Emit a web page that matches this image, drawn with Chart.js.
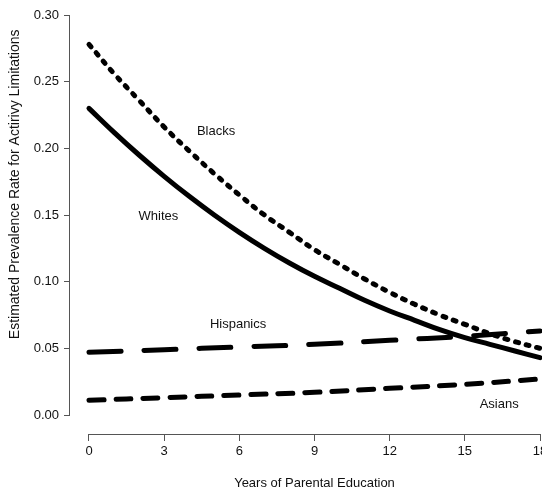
<!DOCTYPE html>
<html>
<head>
<meta charset="utf-8">
<script src="https://cdn.jsdelivr.net/npm/chart.js@4.4.0/dist/chart.umd.min.js"></script>
<style>
  html, body { margin: 0; padding: 0; background: #fff; overflow: hidden; width: 542px; height: 488px; }
  #wrap { width: 560px; height: 488px; }
</style>
</head>
<body>
<div id="wrap"><canvas id="chart" width="560" height="488"></canvas></div>
<script>
// years of parental education
var years = [0, 1, 2, 3, 4, 5, 6, 7, 8, 9, 10, 11, 12, 13, 14, 15, 16, 17, 18];
var whites = [0.230, 0.212, 0.195, 0.179, 0.164, 0.150, 0.137, 0.125, 0.114, 0.104,
              0.095, 0.086, 0.078, 0.071, 0.064, 0.058, 0.053, 0.048, 0.043];
var blacks = [0.278, 0.256, 0.236, 0.216, 0.198, 0.181, 0.165, 0.150, 0.137, 0.124,
              0.113, 0.102, 0.092, 0.083, 0.075, 0.068, 0.061, 0.055, 0.050];
var sparseYears = [0, 3, 6, 9, 12, 15, 18];
var hispanics = [0.047, 0.049, 0.051, 0.053, 0.056, 0.059, 0.063];
var asians = [0.011, 0.013, 0.015, 0.017, 0.020, 0.023, 0.027];

var xTicks = [0, 3, 6, 9, 12, 15, 18];
var yTicks = [0, 0.05, 0.10, 0.15, 0.20, 0.25, 0.30];

var groupNames = ['Blacks', 'Whites', 'Hispanics', 'Asians'];
var nameSpots = [[5.07, 0.2130], [2.77, 0.1493], [5.95, 0.0683], [16.37, 0.0083]];
var yTitle = 'Estimated Prevalence Rate for Actirivy Limitations';

function pts(xs, ys) {
    return xs.map(function (x, i) { return { x: x, y: ys[i] }; });
}

var font = "'Liberation Sans', Arial, Helvetica, sans-serif";
var axisColor = '#555';

var annotate = {
    id: 'annotate',
    afterDraw: function (chart) {
        var ctx = chart.ctx;
        var xs = chart.scales.x, ys = chart.scales.y;
        ctx.save();
        // R-style detached axis lines
        ctx.strokeStyle = axisColor;
        ctx.lineWidth = 1;
        ctx.beginPath();
        ctx.moveTo(xs.getPixelForValue(xTicks[0]), xs.top + 0.5);
        ctx.lineTo(xs.getPixelForValue(xTicks[xTicks.length - 1]), xs.top + 0.5);
        ctx.moveTo(ys.right - 0.5, ys.getPixelForValue(yTicks[0]));
        ctx.lineTo(ys.right - 0.5, ys.getPixelForValue(yTicks[yTicks.length - 1]));
        ctx.stroke();
        // group names
        ctx.fillStyle = '#111';
        ctx.font = '13px ' + font;
        ctx.textAlign = 'center';
        ctx.textBaseline = 'middle';
        groupNames.forEach(function (name, i) {
            ctx.fillText(name, xs.getPixelForValue(nameSpots[i][0]), ys.getPixelForValue(nameSpots[i][1]));
        });
        // y axis title, placed where the original has it
        ctx.font = '14px ' + font;
        ctx.translate(15, ys.getPixelForValue(0.173));
        ctx.rotate(-Math.PI / 2);
        ctx.fillText(yTitle, 0, 0);
        ctx.restore();
    }
};

new Chart(document.getElementById('chart').getContext('2d'), {
    type: 'line',
    data: {
        datasets: [{
            label: 'Whites',
            data: pts(years, whites),
            borderColor: '#000',
            borderWidth: 5,
            borderCapStyle: 'round',
            tension: 0.4,
            pointRadius: 0
        }, {
            label: 'Blacks',
            data: pts(years, blacks),
            borderColor: '#000',
            borderWidth: 5,
            borderDash: [3, 8],
            borderCapStyle: 'round',
            tension: 0.4,
            pointRadius: 0
        }, {
            label: 'Hispanics',
            data: pts(sparseYears, hispanics),
            borderColor: '#000',
            borderWidth: 5,
            borderDash: [32, 23],
            borderCapStyle: 'round',
            tension: 0.4,
            pointRadius: 0
        }, {
            label: 'Asians',
            data: pts(sparseYears, asians),
            borderColor: '#000',
            borderWidth: 5,
            borderDash: [15, 12],
            borderCapStyle: 'round',
            tension: 0.4,
            pointRadius: 0
        }]
    },
    options: {
        responsive: false,
        animation: false,
        layout: { padding: { top: 0, right: 1, left: 0, bottom: 0 } },
        plugins: {
            legend: { display: false },
            tooltip: { enabled: false }
        },
        scales: {
            x: {
                type: 'linear',
                min: -0.758,
                max: 18.758,
                afterBuildTicks: function (s) { s.ticks = xTicks.map(function (v) { return { value: v }; }); },
                afterFit: function (s) {
                    s.height = 54;
                    s.paddingLeft = 0;
                    s.paddingRight = 0;
                },
                border: { display: false },
                grid: { drawOnChartArea: false, drawTicks: true, tickLength: 7, color: axisColor },
                ticks: { color: '#111', padding: 3, font: { family: font, size: 13 }, maxRotation: 0 },
                title: {
                    display: true,
                    text: 'Years of Parental Education',
                    color: '#111',
                    font: { family: font, size: 13 },
                    padding: { top: 17, bottom: -3 }
                }
            },
            y: {
                min: -0.01425,
                max: 0.31125,
                afterBuildTicks: function (s) { s.ticks = yTicks.map(function (v) { return { value: v }; }); },
                afterFit: function (s) {
                    s.width = 70;
                    s.paddingTop = 0;
                    s.paddingBottom = 0;
                },
                border: { display: false },
                grid: { drawOnChartArea: false, drawTicks: true, tickLength: 6, color: axisColor },
                ticks: {
                    color: '#111',
                    padding: 5,
                    font: { family: font, size: 13 },
                    callback: function (v) { return Number(v).toFixed(2); }
                },
                title: { display: false }
            }
        }
    },
    plugins: [annotate]
});
</script>
</body>
</html>
